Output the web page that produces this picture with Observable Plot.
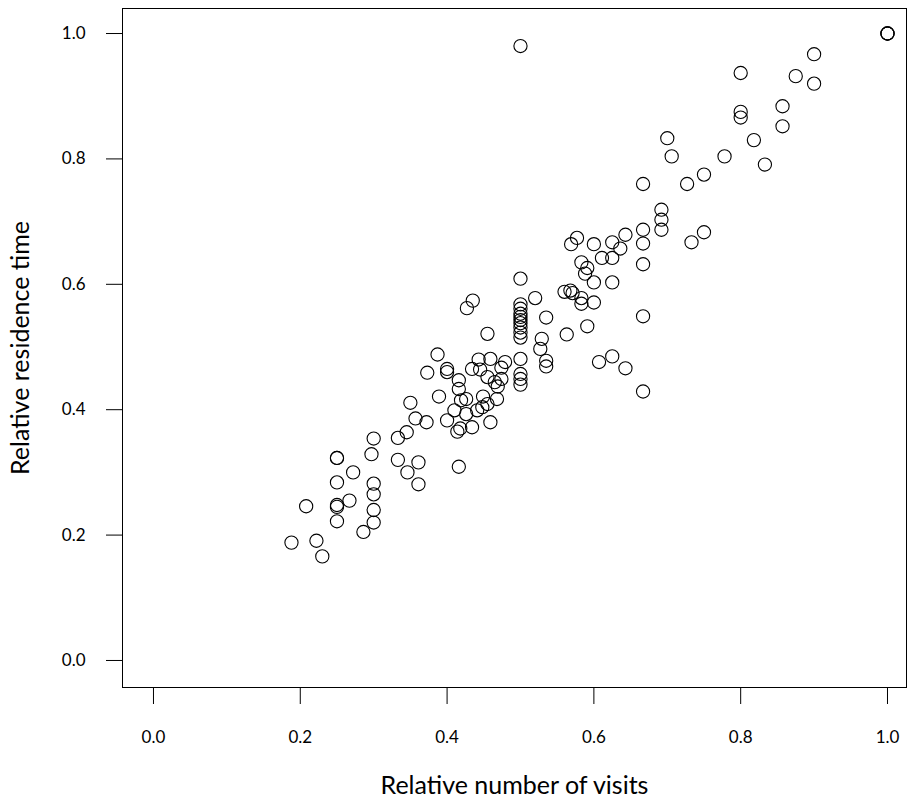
<!DOCTYPE html>
<html>
<head>
<meta charset="utf-8">
<script src="https://cdn.jsdelivr.net/npm/d3@7"></script>
<script src="https://cdn.jsdelivr.net/npm/@observablehq/plot@0.6"></script>
<style>
  html, body { margin: 0; padding: 0; background: #fff; }
  #chart svg { display: block; }
</style>
</head>
<body>
<div id="chart"></div>
<script>
// Relative number of visits (x) and relative residence time (y)
const visits = [
  1.0, 1.0, 1.0, 0.5, 0.9, 0.8, 0.875, 0.9, 0.857, 0.8, 0.8, 0.857, 0.818, 0.778, 0.833,
  0.7, 0.706, 0.75, 0.727, 0.667, 0.692, 0.692, 0.692, 0.75, 0.733, 0.667, 0.667, 0.667,
  0.643, 0.625, 0.636, 0.6, 0.577, 0.569, 0.611, 0.625, 0.583, 0.591, 0.588, 0.6, 0.625,
  0.56, 0.568, 0.571, 0.583, 0.583, 0.6, 0.667, 0.591, 0.563, 0.607, 0.625, 0.643, 0.667,
  0.5, 0.5, 0.5, 0.5, 0.5, 0.5, 0.5, 0.5, 0.5, 0.5, 0.5, 0.5, 0.5, 0.5,
  0.52, 0.535, 0.529, 0.527, 0.535, 0.535, 0.435, 0.427, 0.455, 0.387, 0.373, 0.4, 0.4,
  0.443, 0.459, 0.479, 0.434, 0.445, 0.474, 0.455, 0.474, 0.465, 0.469, 0.416, 0.416,
  0.389, 0.426, 0.449, 0.468, 0.419, 0.455, 0.448, 0.441, 0.426, 0.41, 0.4, 0.434, 0.418,
  0.414, 0.459, 0.416, 0.35, 0.357, 0.372, 0.345, 0.333, 0.3, 0.297, 0.333, 0.361, 0.346,
  0.361, 0.25, 0.25, 0.272, 0.25, 0.3, 0.3, 0.3, 0.3, 0.267, 0.25, 0.25, 0.208, 0.25,
  0.286, 0.188, 0.222, 0.23
];
const residence = [
  1.0, 1.0, 1.0, 0.98, 0.967, 0.937, 0.932, 0.92, 0.884, 0.875, 0.866, 0.852, 0.83, 0.804, 0.791,
  0.833, 0.804, 0.775, 0.76, 0.76, 0.719, 0.703, 0.687, 0.683, 0.667, 0.687, 0.665, 0.632,
  0.679, 0.667, 0.657, 0.664, 0.674, 0.664, 0.642, 0.642, 0.635, 0.626, 0.617, 0.603, 0.603,
  0.588, 0.59, 0.586, 0.578, 0.569, 0.571, 0.549, 0.533, 0.52, 0.476, 0.485, 0.466, 0.429,
  0.609, 0.568, 0.561, 0.553, 0.548, 0.543, 0.538, 0.531, 0.523, 0.515, 0.481, 0.457, 0.449, 0.44,
  0.578, 0.547, 0.513, 0.497, 0.478, 0.469, 0.574, 0.562, 0.521, 0.488, 0.459, 0.465, 0.46,
  0.48, 0.481, 0.476, 0.465, 0.464, 0.467, 0.452, 0.449, 0.444, 0.437, 0.447, 0.433,
  0.421, 0.417, 0.421, 0.417, 0.415, 0.409, 0.404, 0.399, 0.393, 0.399, 0.383, 0.372, 0.37,
  0.365, 0.38, 0.309, 0.411, 0.386, 0.38, 0.364, 0.355, 0.354, 0.329, 0.32, 0.316, 0.3,
  0.281, 0.323, 0.323, 0.3, 0.284, 0.282, 0.265, 0.24, 0.22, 0.255, 0.248, 0.245, 0.246, 0.222,
  0.205, 0.188, 0.191, 0.166
];
const tickValues = [0, 0.2, 0.4, 0.6, 0.8, 1.0];
const xTitle = "Relative number of visits";
const yTitle = "Relative residence time";

const points = visits.map((v, i) => ({visits: v, residence: residence[i]}));

const chart = Plot.plot({
  width: 908,
  height: 801,
  marginLeft: 122,
  marginRight: 2,
  marginTop: 8,
  marginBottom: 114,
  style: {fontFamily: "Lato, 'Open Sans', sans-serif", fontSize: "17px", color: "#000", background: "#fff"},
  x: {domain: [-0.0422, 1.0259], label: null},
  y: {domain: [-0.0431, 1.0399], label: null},
  marks: [
    Plot.frame({stroke: "#000", strokeWidth: 1}),
    Plot.axisX({ticks: tickValues, tickFormat: d3.format(".1f"), tickSize: 17, tickPadding: 26, fontSize: 17, label: null}),
    Plot.axisY({ticks: tickValues, tickFormat: d3.format(".1f"), tickSize: 16, tickPadding: 21, fontSize: 17, label: null}),
    Plot.dot(points, {x: "visits", y: "residence", r: 6.6, stroke: "#000", strokeWidth: 1.1, fill: "none"}),
    Plot.text([xTitle], {frameAnchor: "bottom", dy: 98, lineAnchor: "middle", textAnchor: "middle", fontSize: 25, fill: "#000"}),
    Plot.text([yTitle], {frameAnchor: "left", dx: -102, lineAnchor: "middle", textAnchor: "middle", rotate: -90, fontSize: 25, fill: "#000"})
  ]
});
document.getElementById("chart").appendChild(chart);
</script>
</body>
</html>
